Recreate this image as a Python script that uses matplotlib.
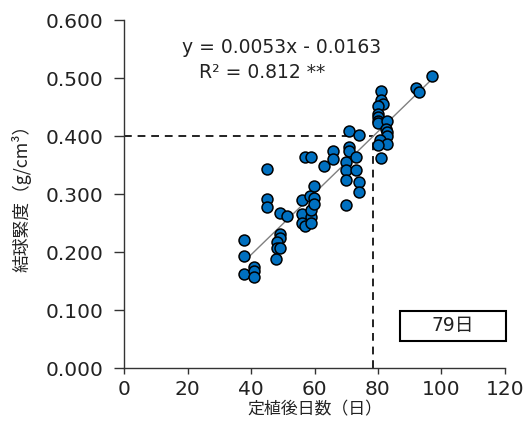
import matplotlib
matplotlib.use("Agg")
import matplotlib.pyplot as plt
from matplotlib.patches import Rectangle
import numpy as np

plt.rcParams['font.family'] = ['DejaVu Sans', 'Noto Sans CJK JP']

# Data: days after planting vs. head firmness
days = [37.8, 37.8, 37.8, 41.0, 41.0, 41.0, 44.9, 44.9, 44.9,
        49.1, 51.2, 49.1, 49.1, 48.1, 48.1, 49.1, 48.0,
        55.9, 55.9, 55.9, 57.0, 58.8, 58.8, 58.8, 58.5, 59.9, 59.9, 59.9, 57.0, 58.8,
        63.0, 65.9, 65.9, 70.0, 70.0, 70.0, 70.0, 70.9, 70.9, 70.9, 73.2, 73.2,
        74.1, 74.1, 74.1,
        81.1, 81.1, 81.5, 80.1, 80.1, 80.1, 80.1, 80.1, 82.9, 82.7, 82.9, 82.9,
        80.6, 82.9, 80.1, 81.1,
        92.0, 93.0, 96.9]
firmness = [0.221, 0.194, 0.162, 0.175, 0.168, 0.158, 0.344, 0.292, 0.278,
            0.268, 0.263, 0.231, 0.224, 0.218, 0.208, 0.208, 0.188,
            0.290, 0.265, 0.251, 0.245, 0.260, 0.250, 0.273, 0.296, 0.293, 0.283, 0.314, 0.364, 0.364,
            0.348, 0.374, 0.360, 0.356, 0.342, 0.324, 0.282, 0.409, 0.381, 0.375, 0.364, 0.341,
            0.402, 0.321, 0.304,
            0.478, 0.463, 0.456, 0.452, 0.438, 0.433, 0.426, 0.422, 0.426, 0.413, 0.407, 0.400,
            0.393, 0.387, 0.384, 0.363,
            0.482, 0.476, 0.503]

slope = 0.0053
intercept = -0.0163
threshold = 0.400
x_ticks = [0, 20, 40, 60, 80, 100, 120]
y_ticks = [0.0, 0.1, 0.2, 0.3, 0.4, 0.5, 0.6]
eq_text = "y = 0.0053x - 0.0163"
r2_text = "R² = 0.812 **"
box_text = "79日"
x_label = "定植後日数（日）"
y_label = "結球緊度（g/cm³）"

fig = plt.figure(figsize=(5.26, 4.22), dpi=100)
ax = fig.add_axes([0.2363, 0.1273, 0.9596 - 0.2363, 0.9526 - 0.1273])

# regression line
xs = np.array([min(days), max(days)])
ax.plot(xs, slope * xs + intercept, color='#808080', lw=1.0, zorder=2)

# dashed guides
x_cross = (threshold - intercept) / slope
ax.plot([0, x_cross], [threshold, threshold], color='#222222', lw=1.4,
        ls=(0, (4, 3)), zorder=1, clip_on=False)
ax.plot([x_cross, x_cross], [0, threshold], color='#222222', lw=1.4,
        ls=(0, (4, 3)), zorder=1, clip_on=False)

ax.scatter(days, firmness, s=62, facecolor='#0070C0', edgecolor='black',
           linewidth=1.1, zorder=3)

ax.set_xlim(0, 120)
ax.set_ylim(0, 0.6)
ax.set_xticks(x_ticks)
ax.set_yticks(y_ticks)
ax.set_xticklabels([str(v) for v in x_ticks])
ax.set_yticklabels([f"{v:.3f}" for v in y_ticks])

for s in ['top', 'right']:
    ax.spines[s].set_visible(False)
for s in ['left', 'bottom']:
    ax.spines[s].set_linewidth(1.0)
    ax.spines[s].set_color('#333333')

ax.tick_params(axis='y', length=7, width=1.0, color='#333333', pad=8,
               labelsize=14.5, labelcolor='#222222')
ax.tick_params(axis='x', length=4.5, width=1.0, color='#333333', pad=4,
               labelsize=14.5, labelcolor='#222222')

ax.set_xlabel(x_label, fontsize=12.2, color='#222222', labelpad=1,
              family=['Noto Sans CJK JP', 'DejaVu Sans'])
ax.set_ylabel(y_label, fontsize=12.8, color='#222222', labelpad=10,
              family=['Noto Sans CJK JP', 'DejaVu Sans'])

ax.text(49.6, 0.553, eq_text, ha='center', va='center', fontsize=13.5,
        color='#222222')
ax.text(43.4, 0.510, r2_text, ha='center', va='center', fontsize=13.5,
        color='#222222')

ax.add_patch(Rectangle((87.0, 0.047), 33.3, 0.052, fill=False,
                       edgecolor='black', lw=1.5, clip_on=False, zorder=4))
ax.text(103.6, 0.073, box_text, ha='center', va='center', fontsize=13.5,
        color='#222222', family=['DejaVu Sans', 'Noto Sans CJK JP'])

fig.savefig("out.png", dpi=100)
